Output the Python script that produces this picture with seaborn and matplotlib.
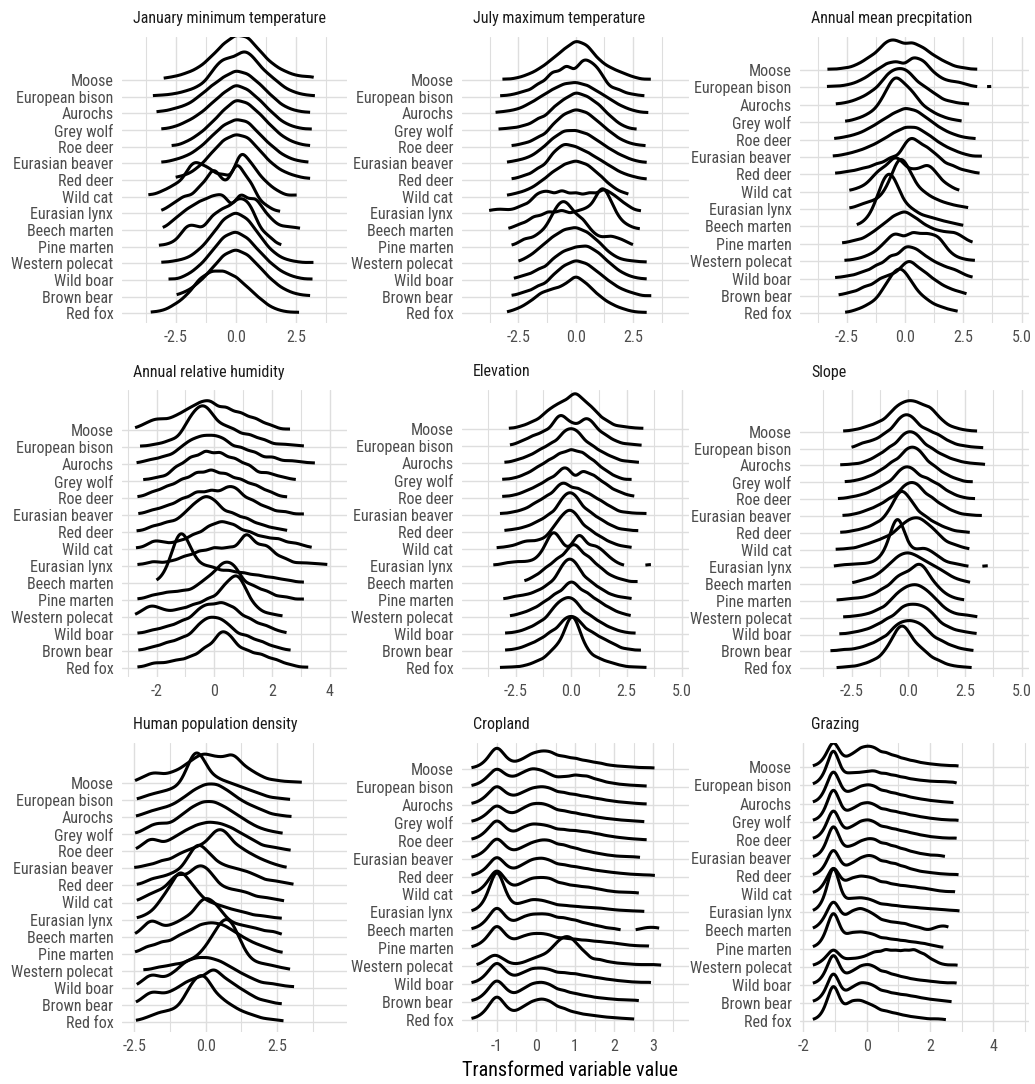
import numpy as np
import matplotlib
matplotlib.use("Agg")
import matplotlib.pyplot as plt
from matplotlib import font_manager as fm
import seaborn as sns

sns.set_style("white")


def pick_font():
    """Prefer a narrow sans face; fall back to Liberation Sans at a smaller size."""
    for fam, lab, ttl, axt in [("Liberation Sans Narrow", 12.4, 12.4, 15.5),
                               ("Arial Narrow", 12.4, 12.4, 15.5),
                               ("Nimbus Sans Narrow", 12.4, 12.4, 15.5),
                               ("Roboto Condensed", 11.5, 11.5, 14.5)]:
        try:
            fm.findfont(fm.FontProperties(family=fam), fallback_to_default=False)
            return fam, lab, ttl, axt
        except Exception:
            pass
    return "Liberation Sans", 10.5, 10.3, 12.8


FONT, LABEL_SIZE, TITLE_SIZE, AXTITLE_SIZE = pick_font()
plt.rcParams["font.family"] = [FONT, "Liberation Sans", "DejaVu Sans"]

# Species, top row first
species = ["Moose", "European bison", "Aurochs", "Grey wolf", "Roe deer",
           "Eurasian beaver", "Red deer", "Wild cat", "Eurasian lynx",
           "Beech marten", "Pine marten", "Western polecat", "Wild boar",
           "Brown bear", "Red fox"]

# Each curve: (transformed values, weights), species in the order above
jan_min_temp = [
    ([-3.0,-2.5,-2.0,-1.5,-1.0,-0.5,0.0,0.5,1.0,1.5,2.0,2.5,3.0,3.25],[1,2,4,7,13,20,25,24,16,9,5,2.5,1.5,1]),
    ([-3.45,-3.0,-2.5,-2.0,-1.5,-1.0,-0.6,-0.25,0.1,0.45,0.85,1.3,1.75,2.25,2.75,3.3],[0.7,1,2,4,7,14,19,17,19,24,20,14,9,4,1.5,0.7]),
    ([-3.3,-3.0,-2.5,-2.0,-1.5,-1.0,-0.5,0.0,0.5,1.0,1.5,2.0,2.5,3.1],[0.7,1,3,5,10,16,21,25,23,17,10,4,1.5,0.7]),
    ([-3.1,-2.5,-2.0,-1.5,-1.0,-0.5,0.0,0.5,1.0,1.5,2.0,2.5,3.17],[0.7,2,5,9,15,21,26,23,17,10,4,1.5,0.7]),
    ([-2.67,-2.0,-1.5,-1.0,-0.5,0.0,0.5,1.0,1.5,2.0,2.5,3.1],[0.7,3,7,13,20,26,24,18,11,5,2,0.7]),
    ([-3.1,-2.5,-2.0,-1.5,-1.0,-0.5,0.0,0.5,1.0,1.5,2.0,2.5,3.03],[0.7,2,4,8,14,20,23,22,15,9,4,1.5,0.7]),
    ([-2.5,-2.0,-1.5,-1.0,-0.5,0.0,0.5,1.0,1.5,2.0,2.5,3.1],[1,2,5,10,15,17,16,11,6,3,1.5,0.7]),
    ([-3.64,-3.0,-2.5,-2.0,-1.7,-1.4,-1.05,-0.5,0.2,0.7,1.2,1.7,2.54],[0.7,2,4,6,8,5.5,8,8,16,10,5,2,0.7]),
    ([-3.1,-2.6,-2.1,-1.5,-0.95,-0.5,0.05,0.6,1.2,1.85],[0.7,3,6,9,15,8,18,11,3,0.7]),
    ([-3.04,-2.5,-2.0,-1.5,-1.0,-0.5,0.2,0.8,1.3,1.7,2.2,2.68],[0.7,5,9,12,14,16,18,15,6,1.5,1.5,0.7]),
    ([-3.2,-2.6,-2.05,-1.6,-1.0,-0.5,0.0,0.4,0.75,1.3,1.9],[0.7,2,10,9,15,18,20,17,13,6,0.7]),
    ([-3.1,-2.5,-2.0,-1.5,-1.0,-0.5,0.0,0.5,1.0,1.5,2.0,2.5,3.24],[0.7,1.5,3,8,16,26,30,26,16,7,2.5,1,0.7]),
    ([-2.8,-2.0,-1.5,-1.0,-0.5,0.0,0.5,1.0,1.5,2.0,2.5,3.2],[0.7,3,8,16,25,28,24,16,9,4,1.5,0.7]),
    ([-2.46,-2.0,-1.5,-1.0,-0.5,0.0,0.5,1.0,1.5,2.0,2.5,3.1],[0.7,3,8,15,23,26,23,16,9,4,1.5,0.7]),
    ([-3.54,-3.0,-2.5,-2.0,-1.5,-1.0,-0.5,0.0,0.5,1.0,1.5,2.0,2.64],[0.7,1.5,5,10,19,23,23,20,14,8,3,1,0.7]),
]

jul_max_temp = [
    ([-3.2,-2.5,-2.0,-1.5,-1.0,-0.5,0.0,0.5,1.0,1.5,2.0,2.5,3.28],[0.7,1.5,4,8,14,20,26,23,13,8,5,2,0.7]),
    ([-3.3,-2.7,-2.2,-1.6,-1.0,-0.4,0.2,0.5,0.85,1.2,1.8,2.4,3.0],[0.7,1.5,4,10,19,24,19,15,16,10,6,2,0.7]),
    ([-3.5,-3.0,-2.5,-2.0,-1.5,-1.0,-0.5,0.0,0.5,1.0,1.5,2.0,2.5,3.17],[0.7,1.5,3,7,12,17,21,22,20,15,10,5,2,0.7]),
    ([-3.37,-2.8,-2.2,-1.6,-1.0,-0.5,0.0,0.5,1.0,1.5,2.0,2.66],[0.7,1.5,3.5,9,15,20,25,22,17,9,3,0.7]),
    ([-2.8,-2.2,-1.6,-1.0,-0.5,0.0,0.5,1.0,1.5,2.0,2.5,3.05],[0.7,2.5,7,14,20,23,21,15,9,4,1.5,0.7]),
    ([-3.0,-2.5,-2.0,-1.5,-1.0,-0.5,0.0,0.5,1.0,1.5,2.0,2.5,3.1],[0.7,2,4,9,16,21,21,19,14,9,5,2,0.7]),
    ([-2.8,-2.2,-1.6,-1.0,-0.5,0.0,0.5,1.0,1.5,2.0,2.5,3.1],[0.7,3,8,16,21,19,16,12,8,4,2,0.7]),
    ([-3.0,-2.5,-2.0,-1.5,-1.0,-0.5,0.0,0.5,1.0,1.5,2.0,2.3],[0.7,2,4,8,13,17,19,17,12,6,2,0.7]),
    ([-3.78,-3.3,-2.8,-2.3,-1.7,-1.2,-0.6,0.0,0.6,1.2,1.7,2.2,2.85],[1,1.5,1,3,7,8,9,8,8,9,6,3,1]),
    ([-2.94,-2.4,-1.8,-1.2,-0.6,0.0,0.5,1.0,1.3,1.7,2.2,2.8],[0.7,4,9,12,13,11,12,17,18,9,3,0.7]),
    ([-2.8,-2.2,-1.6,-1.1,-0.7,-0.3,0.2,0.6,1.0,1.5,2.0,2.5],[0.7,5,7,12,20,20,15,7,4,6,4,0.7]),
    ([-2.5,-2.0,-1.5,-1.0,-0.5,0.0,0.5,1.0,1.5,2.0,2.5,3.1],[0.7,3,7,11,14,15,13,9,4,1.5,1,0.7]),
    ([-2.7,-2.2,-1.6,-1.0,-0.5,0.0,0.5,1.0,1.5,2.0,2.5,3.1],[0.7,3,7,12,16,18,19,15,9,4,1.5,0.7]),
    ([-2.8,-2.2,-1.6,-1.0,-0.5,0.0,0.5,1.0,1.5,2.0,2.5,3.3],[0.7,3,7,12,17,20,18,13,8,4,2,0.7]),
    ([-3.0,-2.5,-2.0,-1.5,-1.0,-0.5,0.0,0.5,1.0,1.5,2.0,2.5,3.1],[0.7,3,7,13,15,17,24,18,11,6,3,1,0.7]),
]

annual_precip = [
    ([-3.33,-2.6,-2.0,-1.5,-1.0,-0.6,-0.2,0.3,0.8,1.3,1.8,2.4,3.1],[0.7,1.5,4,9,14,17,16,19,15,9,5,2,0.7]),
    ([-3.35,-2.8,-2.3,-1.8,-1.3,-0.8,-0.3,0.3,0.8,1.3,1.8,2.3,2.8,3.7],[0.7,0.8,2,5,10,15,17,20,17,8,4,3.5,1,0.8]),
    ([-2.97,-2.4,-1.9,-1.4,-0.9,-0.5,-0.1,0.3,0.8,1.3,1.9,2.5,3.3],[0.7,2,5,10,17,21,22,19,14,8,3,1,0.7]),
    ([-2.57,-2.0,-1.5,-1.0,-0.6,-0.3,0.1,0.5,1.0,1.5,2.0,2.43],[0.7,3,7,15,23,26,23,17,10,5,2,0.7]),
    ([-3.04,-2.5,-2.0,-1.5,-1.0,-0.5,0.0,0.5,1.0,1.5,2.0,2.5,3.03],[0.7,2,4,8,13,18,22,20,14,8,4,1.5,0.7]),
    ([-3.1,-2.5,-2.0,-1.5,-1.0,-0.5,0.0,0.5,1.0,1.5,2.0,2.5,3.3],[0.7,2,4,7,11,16,20,20,15,9,5,2,0.7]),
    ([-3.0,-2.4,-1.8,-1.2,-0.6,0.0,0.4,0.9,1.4,2.0,2.6,3.2],[0.7,2,4,7,11,16,19,16,11,6,2.5,0.7]),
    ([-2.39,-1.9,-1.4,-1.0,-0.5,-0.1,0.4,0.9,1.3,1.8,2.33],[0.7,3,8,15,23,17,15,18,12,5,0.7]),
    ([-2.39,-1.8,-1.3,-0.8,-0.4,-0.1,0.3,0.8,1.3,1.8,2.3,2.71],[0.7,4,6,12,22,28,20,12,7,4,2,0.7]),
    ([-2.07,-1.6,-1.2,-0.9,-0.6,-0.3,0.1,0.5,1.0,1.5,2.0,2.5],[0.7,5,14,26,30,20,13,10,8,5,3,0.7]),
    ([-2.7,-2.1,-1.5,-1.0,-0.5,0.0,0.5,1.0,1.5,2.0,2.4,2.9],[0.7,3,7,13,20,24,18,12,9,8,5,0.7]),
    ([-2.6,-2.0,-1.5,-1.0,-0.55,-0.2,0.3,0.75,1.05,1.45,1.9,2.4,3.0],[0.7,2,5,11,18,15,23,15,14,18,6,2,0.7]),
    ([-3.0,-2.4,-1.8,-1.2,-0.6,0.0,0.5,1.0,1.5,2.0,2.4,2.9],[0.7,2,5,10,17,22,19,13,9,6,3,0.7]),
    ([-2.85,-2.3,-1.7,-1.1,-0.6,-0.1,0.3,0.8,1.3,1.8,2.3,2.64],[0.7,3,8,13,15,19,23,18,11,6,3,0.7]),
    ([-2.57,-2.0,-1.5,-1.0,-0.6,-0.2,0.2,0.6,1.0,1.5,2.0,2.26],[0.7,3,7,13,22,29,20,11,8,5,2,0.7]),
]

rel_humidity = [
    ([-2.74,-2.4,-2.05,-1.7,-1.3,-0.9,-0.5,-0.1,0.4,0.9,1.4,1.9,2.62],[1,4,8,7,11,16,21,24,21,16,11,5,1]),
    ([-2.57,-2.0,-1.5,-1.0,-0.7,-0.4,-0.1,0.3,0.7,1.2,1.7,2.3,2.7,3.1],[1,3,7,15,23,29,24,18,16,13,8,3,1.5,1]),
    ([-2.69,-2.2,-1.7,-1.2,-0.8,-0.4,0.0,0.4,0.9,1.4,2.0,2.6,3.0,3.48],[1,4,7,12,18,21,21,19,15,11,7,3,1.5,1]),
    ([-2.46,-1.9,-1.3,-0.8,-0.3,0.2,0.7,1.2,1.8,2.3,2.82],[1,3,10,16,20,19,15,11,6,3,1]),
    ([-2.66,-2.1,-1.6,-1.1,-0.6,-0.1,0.4,0.9,1.4,1.9,2.52],[1,5,9,14,19,21,18,14,10,5,1]),
    ([-2.63,-2.1,-1.6,-1.1,-0.6,-0.1,0.4,0.8,1.3,1.8,2.4,3.1],[1,4,7,12,17,18,18,17,11,6,3,1]),
    ([-2.69,-2.1,-1.6,-1.1,-0.7,-0.3,0.1,0.6,1.1,1.6,2.1,2.52],[1,5,8,11,18,24,20,15,11,6,3,1]),
    ([-2.71,-2.1,-1.7,-1.2,-0.7,-0.2,0.25,0.7,1.2,1.7,2.2,2.7,3.0,3.37],[1,6,4,6,11,16,19,17,13,9,8,4,2,1]),
    ([-2.66,-2.1,-1.5,-1.0,-0.5,0.0,0.5,1.0,1.2,1.6,1.9,2.4,3.0,3.45,3.91],[1,3,3,6,9,11,11,11,12,8,9,5,2,1.5,1]),
    ([-2.0,-1.6,-1.3,-1.1,-0.8,-0.4,0.0,0.5,1.0,1.5,2.0,2.5,3.1],[1,8,22,26,19,12,12,11,9,7,5,3,1]),
    ([-2.66,-2.1,-1.6,-1.1,-0.6,-0.2,0.2,0.5,0.8,1.3,1.8,2.4,3.1],[1,4,6,7,9,14,19,17,17,11,7,3,1]),
    ([-2.74,-2.4,-2.1,-1.7,-1.2,-0.7,-0.2,0.3,0.7,1.0,1.4,1.9,2.36],[1,5,8,5,7,11,16,23,28,20,8,3,1]),
    ([-2.66,-2.1,-1.6,-1.1,-0.6,-0.2,0.25,0.7,1.2,1.7,2.1,2.5],[1,4,7,12,18,23,26,22,14,8,3,1]),
    ([-2.63,-2.1,-1.6,-1.1,-0.6,-0.2,0.2,0.6,1.1,1.6,2.1,2.64],[1,4,8,12,19,25,24,18,14,9,4,1]),
    ([-2.66,-2.1,-1.7,-1.3,-0.8,-0.3,0.2,0.6,1.1,1.6,2.1,2.6,3.25],[1,4,3,6,9,16,26,21,14,11,7,3,1]),
]

elevation = [
    ([-2.8,-2.2,-1.7,-1.2,-0.8,-0.4,0.0,0.3,0.7,1.1,1.6,2.2,2.7,3.26],[1,3,7,12,16,20,20,23,19,14,8,3,1.5,1]),
    ([-2.75,-2.2,-1.7,-1.2,-0.7,-0.35,0.1,0.6,1.0,1.5,2.0,2.6,3.18],[1,4,8,11,16,19,15,19,15,9,4,2,1]),
    ([-3.0,-2.4,-1.9,-1.4,-0.9,-0.4,0.0,0.4,0.9,1.4,1.9,2.5,3.06],[1,3,6,11,16,21,23,21,15,9,5,2,1]),
    ([-3.1,-2.5,-2.0,-1.5,-1.0,-0.5,0.0,0.5,1.0,1.5,2.0,2.73],[1,2,5,10,15,20,23,21,15,8,3,1]),
    ([-3.1,-2.5,-2.0,-1.5,-1.0,-0.5,-0.1,0.5,1.0,1.5,2.0,2.4,2.85],[1,2,5,9,14,18,20,21,17,11,5,2,1]),
    ([-3.2,-2.6,-2.1,-1.6,-1.1,-0.6,-0.2,0.3,0.8,1.3,1.8,2.4,2.9,3.4],[1,2,4,9,14,19,21,20,16,11,6,2,1,1]),
    ([-3.0,-2.5,-2.0,-1.5,-1.0,-0.5,-0.1,0.3,0.8,1.3,1.8,2.4,3.03],[1,2,4,8,13,20,26,23,16,10,5,2,1]),
    ([-3.35,-2.8,-2.3,-1.9,-1.4,-0.9,-0.5,-0.1,0.3,0.8,1.3,1.8,2.3,2.73],[1,2,4,6,7,12,20,27,23,16,10,5,2,1]),
    ([-3.5,-2.9,-2.4,-1.9,-1.4,-1.0,-0.7,-0.3,0.2,0.5,1.0,1.4,1.8,2.13,3.6],[1,3,4,4,8,18,25,14,19,22,17,12,5,1,1.5]),
    ([-2.1,-1.6,-1.1,-0.6,-0.1,0.3,0.8,1.3,1.8,2.3,3.0],[1,4,9,14,18,19,15,9,4,2,1]),
    ([-3.05,-2.5,-2.0,-1.5,-1.0,-0.5,-0.1,0.3,0.8,1.3,1.8,2.3,2.73],[1,3,4,7,12,20,27,23,15,9,4,2,1]),
    ([-2.75,-2.2,-1.7,-1.2,-0.7,-0.2,0.2,0.7,1.2,1.7,2.2,2.69],[1,3,6,11,17,21,22,18,12,7,3,1]),
    ([-2.97,-2.4,-1.9,-1.4,-0.9,-0.5,-0.1,0.3,0.8,1.3,1.8,2.3,2.91],[1,2,5,10,16,22,25,22,16,10,5,2,1]),
    ([-2.97,-2.4,-1.9,-1.4,-0.9,-0.4,0.0,0.4,0.9,1.4,1.9,2.5,3.15],[1,2,5,9,15,20,22,20,15,10,6,2,1]),
    ([-3.2,-2.6,-2.0,-1.5,-1.0,-0.6,-0.2,0.05,0.3,0.7,1.2,1.7,2.2,2.8,3.4],[1,1.5,3,7,12,18,25,30,26,16,10,6,3,1.5,1]),
]

slope = [
    ([-2.87,-2.3,-1.8,-1.3,-0.8,-0.4,0.0,0.4,0.8,1.1,1.5,2.0,2.5,3.09],[0.7,2,5,9,15,21,24,23,17,14,9,4,1.5,0.7]),
    ([-2.5,-2.0,-1.5,-1.0,-0.5,-0.1,0.3,0.8,1.3,1.8,2.3,2.5,2.9,3.3],[0.7,5,7,13,20,24,21,16,12,6,2,1,1,0.7]),
    ([-3.0,-2.4,-1.8,-1.3,-0.8,-0.3,0.1,0.5,1.0,1.5,2.0,2.5,3.0,3.38],[0.7,1.5,4,9,16,22,24,21,15,9,5,2.5,1.5,0.7]),
    ([-2.8,-2.2,-1.7,-1.2,-0.7,-0.2,0.2,0.6,1.1,1.6,2.1,2.84],[0.7,2,5,10,17,22,24,21,14,7,3,0.7]),
    ([-3.1,-2.5,-2.0,-1.5,-1.0,-0.5,-0.1,0.3,0.8,1.3,1.8,2.3,2.94],[0.7,2,4,8,13,19,23,21,18,13,6,2,0.7]),
    ([-2.9,-2.3,-1.8,-1.3,-0.8,-0.3,0.1,0.5,1.0,1.5,2.0,2.6,3.24],[0.7,2,5,9,15,20,23,22,16,9,4,1.5,0.7]),
    ([-3.0,-2.4,-1.9,-1.4,-0.9,-0.5,-0.2,0.2,0.7,1.2,1.7,2.3,3.04],[0.7,2,4,8,14,21,25,21,14,8,4,1.5,0.7]),
    ([-3.2,-2.6,-2.0,-1.5,-1.0,-0.5,-0.1,0.25,0.6,1.0,1.4,1.9,2.3,2.69],[0.7,1.5,4,7,11,15,18,19,20,16,10,5,2,0.7]),
    ([-3.28,-2.8,-2.3,-1.8,-1.3,-0.9,-0.6,-0.4,-0.1,0.3,0.7,1.1,1.5,2.0,2.43,3.5],[0.7,2,2.5,3,6,12,22,26,14,11,14,10,5,3,1,1.2]),
    ([-2.47,-2.0,-1.6,-1.2,-0.8,-0.4,0.0,0.4,0.8,1.2,1.6,2.0,2.4,2.72],[0.7,3,4,8,14,20,22,19,15,12,8,4,2,0.7]),
    ([-3.16,-2.6,-2.1,-1.6,-1.1,-0.6,-0.2,0.2,0.5,0.8,1.2,1.6,2.0,2.46],[0.7,2,2.5,5,11,17,20,20,21,19,12,5,2,0.7]),
    ([-2.87,-2.3,-1.8,-1.3,-0.8,-0.4,0.0,0.4,0.8,1.2,1.6,2.0,2.5,3.04],[0.7,1.5,3,7,12,18,22,23,19,13,6,3,2.5,0.7]),
    ([-3.04,-2.4,-1.9,-1.4,-0.9,-0.4,0.0,0.4,0.8,1.2,1.7,2.2,2.6,3.01],[0.7,2,4,8,14,19,21,21,19,13,7,3,1.5,0.7]),
    ([-3.43,-2.8,-2.2,-1.7,-1.2,-0.7,-0.3,0.1,0.5,0.9,1.4,1.9,2.4,2.87],[0.7,2,3,6,11,17,21,22,20,15,10,5,2,0.7]),
    ([-3.16,-2.6,-2.0,-1.5,-1.0,-0.6,-0.3,0.0,0.4,0.8,1.3,1.8,2.3,2.79],[0.7,2,4,8,15,23,27,25,18,13,8,3,1.5,0.7]),
]

human_density = [
    ([-2.47,-2.2,-1.85,-1.5,-1.1,-0.7,-0.35,0.0,0.4,0.8,1.1,1.5,1.9,2.4,2.9,3.36],[0.7,4,8,6,9,13,17,22,20,19,17,11,6,3,1.5,1]),
    ([-2.41,-2.0,-1.6,-1.2,-0.8,-0.5,-0.3,0.0,0.4,0.8,1.2,1.6,2.0,2.5,2.95],[0.7,4,6,8,12,19,26,22,16,13,10,7,4,2,0.7]),
    ([-2.44,-2.0,-1.6,-1.2,-0.8,-0.4,0.0,0.4,0.8,1.2,1.6,2.0,2.5,3.0],[0.7,4,6,8,13,19,23,23,18,12,8,5,2,0.7]),
    ([-2.47,-2.0,-1.65,-1.3,-0.9,-0.5,-0.1,0.3,0.7,1.1,1.5,1.9,2.3,2.69],[0.7,5,7,6,12,18,22,22,18,13,8,4,2,0.7]),
    ([-2.44,-2.1,-1.85,-1.5,-1.1,-0.7,-0.3,0.1,0.5,0.9,1.3,1.7,2.2,2.6,2.97],[0.7,5,8,5,10,15,19,21,20,17,12,8,4,2,0.7]),
    ([-2.5,-2.0,-1.5,-1.0,-0.6,-0.2,0.2,0.5,0.8,1.2,1.6,2.0,2.4,2.83],[0.7,3,7,10,13,16,20,22,20,15,10,6,3,0.7]),
    ([-2.41,-1.9,-1.5,-1.1,-0.7,-0.4,-0.15,0.2,0.6,1.0,1.4,1.8,2.3,2.7,3.07],[0.7,5,6,9,13,19,22,19,14,12,10,7,4,2,0.7]),
    ([-2.41,-2.0,-1.6,-1.2,-0.9,-0.5,-0.25,0.0,0.3,0.7,1.1,1.5,2.0,2.4,2.74],[0.7,4,6,9,13,12,11,13,10,7,6,5,3,1.5,0.7]),
    ([-2.41,-2.0,-1.6,-1.3,-1.0,-0.8,-0.5,-0.2,0.2,0.6,1.0,1.4,1.9,2.3,2.66],[0.7,3,8,12,16,17,14,11,9,7,5,4,2.5,1,0.7]),
    ([-2.47,-2.1,-1.85,-1.5,-1.1,-0.7,-0.3,0.0,0.3,0.6,1.0,1.4,1.8,2.3,2.66],[0.7,4,7,4,6,9,12,15,12,9,6,5,4,3,0.7]),
    ([-2.47,-2.0,-1.5,-1.0,-0.6,-0.2,0.2,0.6,1.0,1.4,1.8,2.2,2.69],[0.7,5,8,10,12,16,17,16,12,8,5,3,0.7]),
    ([-2.18,-1.6,-1.1,-0.6,-0.2,0.1,0.35,0.6,0.85,1.1,1.4,1.8,2.2,2.6,2.95],[0.7,3,5,7,9,12,16,22,23,16,9,5,4,2,0.7]),
    ([-2.41,-2.1,-1.85,-1.5,-1.1,-0.7,-0.3,0.1,0.5,0.9,1.3,1.7,2.2,2.6,3.09],[0.7,4,7,5,9,16,18,18,16,12,8,5,3,1.5,0.7]),
    ([-2.44,-2.1,-1.85,-1.5,-1.1,-0.7,-0.3,0.1,0.4,0.8,1.2,1.6,2.1,2.66],[0.7,4,7,6,9,14,17,17,19,15,10,6,3,0.7]),
    ([-2.44,-2.0,-1.6,-1.2,-0.8,-0.5,-0.2,0.1,0.5,0.9,1.3,1.7,2.2,2.72],[0.7,3,6,7,10,18,23,22,15,10,6,4,2,0.7]),
]

cropland = [
    ([-1.65,-1.4,-1.2,-1.0,-0.8,-0.6,-0.35,-0.1,0.15,0.4,0.7,1.0,1.3,1.6,1.9,2.2,2.5,2.8,3.03],[0.5,1.5,4,11,4,2.5,4.5,7.5,8.5,8.5,7,6,4.5,3.5,2,1.5,1,0.7,0.5]),
    ([-1.65,-1.4,-1.2,-1.0,-0.8,-0.6,-0.35,-0.1,0.15,0.4,0.7,1.0,1.3,1.6,1.9,2.2,2.5,2.83],[0.5,1.5,3.5,8,3.5,3.5,6,8,7,5,5,6,5.5,3.5,2,1.2,0.8,0.5]),
    ([-1.65,-1.4,-1.2,-1.0,-0.8,-0.6,-0.35,-0.1,0.15,0.4,0.7,1.0,1.3,1.6,1.9,2.2,2.5,2.83],[0.5,1.5,3.5,8,3.5,3,5,7,7.5,7,6,5,4,3,2,1.3,0.8,0.5]),
    ([-1.65,-1.4,-1.2,-1.0,-0.8,-0.6,-0.35,-0.1,0.15,0.4,0.7,1.0,1.3,1.6,1.9,2.2,2.5,2.77],[0.5,1.5,3,7,3,3,5.5,7.5,7.5,6.5,5.5,4.5,3.5,2.5,1.8,1.2,0.8,0.5]),
    ([-1.65,-1.4,-1.2,-1.0,-0.8,-0.6,-0.35,-0.1,0.15,0.4,0.7,1.0,1.3,1.6,1.9,2.2,2.5,2.83],[0.5,1.5,3.5,8,3.5,2.5,5,6.5,6,5.5,5,4.5,4,3,2,1.3,0.8,0.5]),
    ([-1.65,-1.4,-1.2,-1.0,-0.8,-0.6,-0.35,-0.1,0.15,0.4,0.7,1.0,1.3,1.6,1.9,2.2,2.45,2.66],[0.5,1.5,3.5,8.5,3.5,2.5,4.5,6.5,7.5,7.5,6.5,5,3.5,2.5,1.5,1,0.7,0.5]),
    ([-1.65,-1.4,-1.2,-1.0,-0.8,-0.6,-0.35,-0.1,0.15,0.4,0.7,1.0,1.3,1.6,1.9,2.2,2.5,2.8,3.04],[0.5,1.5,3.5,9,3.5,2.5,5,7.5,8,7,6,5,4,3,2.2,1.6,1.1,0.8,0.5]),
    ([-1.65,-1.4,-1.2,-1.0,-0.8,-0.6,-0.35,-0.1,0.15,0.4,0.7,1.0,1.3,1.6,1.9,2.2,2.45,2.63],[0.5,1.5,4,10,4,2.5,4.5,6.5,6.5,6.5,5,4,3.5,2.5,1.5,1,0.7,0.5]),
    ([-1.65,-1.4,-1.2,-1.0,-0.8,-0.6,-0.35,-0.1,0.15,0.4,0.7,1.0,1.3,1.6,1.9,2.2,2.5,2.77],[0.5,2,6,19,6,2.5,4,5.5,5,4,3.5,3,2.5,2.2,1.5,1,0.7,0.5]),
    ([-1.65,-1.4,-1.2,-1.0,-0.8,-0.6,-0.35,-0.1,0.15,0.4,0.7,1.0,1.3,1.6,1.94,2.75,2.95,3.15],[0.5,1.5,3.5,9,3.5,2.5,5,6,6,6,5.5,4.5,3,2,1,0.8,1,0.8]),
    ([-1.65,-1.4,-1.2,-1.0,-0.8,-0.6,-0.35,-0.1,0.15,0.4,0.7,1.0,1.3,1.6,1.9,2.2,2.5,2.8,2.89],[0.5,1.5,3.5,9,3.5,2.5,4.5,5.5,5.5,5,4.5,4,3.5,3,2.5,1.8,1.2,0.8,0.5]),
    ([-1.52,-1.3,-1.15,-1.0,-0.8,-0.6,-0.35,-0.1,0.15,0.4,0.6,0.8,1.0,1.25,1.6,1.9,2.2,2.5,2.8,3.0,3.2],[0.5,1.5,3,4.5,2,0.7,1.5,3.5,5,7,10,12,10,7,4,2.2,1.5,1,0.8,0.6,0.5]),
    ([-1.65,-1.4,-1.2,-1.0,-0.8,-0.6,-0.35,-0.1,0.15,0.4,0.7,1.0,1.3,1.6,1.9,2.2,2.5,2.8,2.94],[0.5,1.5,4,9,4,2.5,4.5,6.5,6.5,6,5.5,5,4,3,2.2,1.5,1,0.7,0.5]),
    ([-1.65,-1.4,-1.2,-1.0,-0.8,-0.6,-0.35,-0.1,0.15,0.4,0.7,1.0,1.3,1.6,1.9,2.2,2.45,2.63],[0.5,1.5,4,9,4,2.5,5,7.5,8,7,5.5,4,3,2,1.5,1,0.7,0.5]),
    ([-1.65,-1.4,-1.2,-1.0,-0.8,-0.6,-0.35,-0.1,0.15,0.4,0.7,1.0,1.3,1.6,1.9,2.2,2.51],[0.5,1.5,4,10,4,2.5,5,7.5,8.5,7.5,5.5,3.5,2.5,1.8,1.2,0.8,0.5]),
]

grazing = [
    ([-1.7,-1.45,-1.25,-1.05,-0.85,-0.65,-0.45,-0.2,0.05,0.3,0.6,0.9,1.2,1.5,1.8,2.1,2.4,2.7,2.9],[0.5,1.5,4,11,4,2.5,5,8,8.5,8,7,5.5,4,3,2,1.5,1,0.7,0.5]),
    ([-1.7,-1.45,-1.25,-1.05,-0.85,-0.65,-0.45,-0.2,0.05,0.3,0.6,0.9,1.2,1.5,1.8,2.1,2.4,2.7,2.84],[0.5,2,5.5,17,5,3.5,5,5.5,6,6.5,6,5,4,3,2.5,2,2,1.5,0.5]),
    ([-1.7,-1.45,-1.25,-1.05,-0.85,-0.65,-0.45,-0.2,0.05,0.3,0.6,0.9,1.2,1.5,1.8,2.1,2.4,2.74],[0.5,1.5,5,13,5,2.5,4.5,6.5,7,6.5,5.5,4.5,3.5,2.5,1.8,1.2,0.8,0.5]),
    ([-1.7,-1.45,-1.25,-1.05,-0.85,-0.65,-0.45,-0.2,0.05,0.3,0.6,0.9,1.2,1.5,1.8,2.1,2.4,2.7,2.9],[0.5,1.5,5,15,5,2.5,5,7.5,8,7,6,5,4,3,2.2,1.5,1,0.7,0.5]),
    ([-1.7,-1.45,-1.25,-1.05,-0.85,-0.65,-0.45,-0.2,0.05,0.3,0.6,0.9,1.2,1.5,1.8,2.1,2.4,2.7,2.84],[0.5,1.5,4.5,13,4.5,2.5,5,7.5,8,7,6,5,4,3,2,1.3,0.9,0.6,0.5]),
    ([-1.7,-1.45,-1.25,-1.05,-0.85,-0.65,-0.45,-0.2,0.05,0.3,0.6,0.9,1.2,1.5,1.8,2.1,2.3,2.47],[0.5,1.5,5,16,5,3,5,7.5,8.5,8.5,7.5,6,4.5,3,2,1.2,0.8,0.5]),
    ([-1.7,-1.45,-1.25,-1.05,-0.85,-0.65,-0.45,-0.2,0.05,0.3,0.6,0.9,1.2,1.5,1.8,2.1,2.4,2.7,2.9],[0.5,1.5,4,12,4,2.5,5,7.5,8.5,8,7,6,4.5,3,2,1.5,1,0.7,0.5]),
    ([-1.7,-1.45,-1.25,-1.05,-0.85,-0.65,-0.45,-0.2,0.05,0.3,0.6,0.9,1.2,1.5,1.8,2.1,2.4,2.7,2.79],[0.5,1.5,4,10,4,3,5.5,6.5,6,5.5,5,4,3.5,3,2.5,1.8,1.2,0.8,0.5]),
    ([-1.7,-1.45,-1.25,-1.05,-0.85,-0.65,-0.45,-0.2,0.05,0.3,0.6,0.9,1.2,1.5,1.8,2.1,2.4,2.7,2.93],[0.5,2,6,19,6,3,5,5.5,5,4,3.5,3,2.5,2.2,1.8,1.5,1.2,0.8,0.5]),
    ([-1.7,-1.45,-1.25,-1.05,-0.85,-0.65,-0.45,-0.2,0.05,0.3,0.6,0.9,1.2,1.5,1.72,2.2,2.4,2.58],[0.5,1.5,3.5,8,3.5,2.5,5,6,5,4,3,2.5,2.2,1.2,0.5,0.8,1,0.8]),
    ([-1.7,-1.45,-1.25,-1.05,-0.85,-0.65,-0.45,-0.2,0.05,0.3,0.6,0.9,1.2,1.5,1.8,2.1,2.42],[0.5,1.5,4.5,13,4.5,3,5,5.5,5,4.5,4,3.5,3,2.5,2,1.2,0.5]),
    ([-1.7,-1.45,-1.25,-1.05,-0.85,-0.65,-0.45,-0.2,0.05,0.3,0.6,0.9,1.2,1.5,1.8,2.1,2.4,2.7,2.87],[0.5,1.5,3,7,3,2,3,3.5,4.5,6.5,8,7.5,7.5,8,6,3,1,0.6,0.5]),
    ([-1.7,-1.45,-1.25,-1.05,-0.85,-0.65,-0.45,-0.2,0.05,0.3,0.6,0.9,1.2,1.5,1.8,2.1,2.4,2.7,2.84],[0.5,1.5,4.5,13,4.5,2.5,5,7.5,8,7,6,4.5,3.5,2.5,2,1.5,1,0.7,0.5]),
    ([-1.7,-1.45,-1.25,-1.05,-0.85,-0.65,-0.45,-0.2,0.05,0.3,0.6,0.9,1.2,1.5,1.8,2.1,2.4,2.68],[0.5,1.5,4,12,4,2.5,5.5,7.5,7,6,5,4,3.5,2.8,2,1.4,0.9,0.5]),
    ([-1.7,-1.45,-1.25,-1.05,-0.85,-0.65,-0.45,-0.2,0.05,0.3,0.6,0.9,1.2,1.5,1.8,2.1,2.3,2.5],[0.5,1.5,5,15,5,4,7.5,8,6.5,5.5,4.5,3.5,2.5,1.8,1.2,0.8,0.6,0.5]),
]

panel_titles = ["January minimum temperature", "July maximum temperature",
                "Annual mean precpitation", "Annual relative humidity",
                "Elevation", "Slope", "Human population density",
                "Cropland", "Grazing"]
panel_data = [jan_min_temp, jul_max_temp, annual_precip, rel_humidity,
              elevation, slope, human_density, cropland, grazing]

# ---- layout (pixels) ----
FW, FH = 1035, 1084
fig = plt.figure(figsize=(FW / 100, FH / 100), dpi=100)

col_lr = [(121.7, 347.0), (461.7, 689.0), (800.0, 1029.0)]
row_tb = [(36.7, 323.3), (390.0, 676.7), (743.3, 1031.7)]
title_y = [18, 372, 725]

# per panel: zero pixel, px per unit, moose row px, red fox row px,
#            major ticks, tick labels, minor ticks, kernel bw, ridge height (rows)
panel_specs = [
    (235.7, 24.0, 80.0, 313.3, [-2.5, 0, 2.5], ["-2.5", "0.0", "2.5"], [-3.75, -1.25, 1.25, 3.75], 0.28, 3.0),
    (575.7, 22.9, 80.0, 313.3, [-2.5, 0, 2.5], ["-2.5", "0.0", "2.5"], [-3.75, -1.25, 1.25, 3.75], 0.28, 2.7),
    (905.0, 23.3, 70.0, 313.3, [-2.5, 0, 2.5, 5.0], ["-2.5", "0.0", "2.5", "5.0"], [-3.75, -1.25, 1.25, 3.75], 0.28, 3.0),
    (214.3, 28.9, 430.0, 668.3, [-2, 0, 2, 4], ["-2", "0", "2", "4"], [-3, -1, 1, 3], 0.24, 2.9),
    (571.0, 22.2, 429.3, 668.3, [-2.5, 0, 2.5, 5.0], ["-2.5", "0.0", "2.5", "5.0"], [-3.75, -1.25, 1.25, 3.75], 0.26, 3.0),
    (908.3, 22.7, 431.7, 668.3, [-2.5, 0, 2.5, 5.0], ["-2.5", "0.0", "2.5", "5.0"], [-3.75, -1.25, 1.25, 3.75], 0.26, 2.8),
    (205.7, 28.6, 783.3, 1021.7, [-2.5, 0, 2.5], ["-2.5", "0.0", "2.5"], [-1.25, 1.25, 3.75], 0.24, 3.0),
    (536.0, 39.1, 769.0, 1020.0, [-1, 0, 1, 2, 3], ["-1", "0", "1", "2", "3"], [-1.5, -0.5, 0.5, 1.5, 2.5, 3.5], 0.15, 2.2),
    (866.7, 31.67, 767.3, 1021.0, [-2, 0, 2, 4], ["-2", "0", "2", "4"], [-1, 1, 3, 5], 0.15, 2.4),
]

GRID = "#DEDEDE"
TXT = "#4D4D4D"
n = len(species)

for k, (title, curves, spec) in enumerate(zip(panel_titles, panel_data, panel_specs)):
    zero_px, ppu, top_row_px, bot_row_px, majors, mlabels, minors, bw, ridge_h = spec
    left, right = col_lr[k % 3]
    top, bottom = row_tb[k // 3]
    ax = fig.add_axes([left / FW, 1 - bottom / FH, (right - left) / FW, (bottom - top) / FH])

    for xs, ws in curves:
        xs = np.asarray(xs, float)
        ws = np.asarray(ws, float)
        sd = np.sqrt(np.cov(xs, aweights=ws))
        sns.kdeplot(x=xs, weights=ws, bw_method=bw / sd, cut=0, gridsize=400,
                    color="black", linewidth=2.2, ax=ax)

    # stack the densities as ridges on a common height scale
    lines = list(ax.lines)
    peak = max(np.nanmax(l.get_ydata()) for l in lines)
    for i, line in enumerate(lines):
        x, y = line.get_data()
        hgt = np.asarray(y) / peak * ridge_h
        hgt = np.where(hgt < 0.015 * ridge_h, np.nan, hgt)
        line.set_data(x, (n - 1 - i) + hgt)
        line.set_solid_capstyle("butt")

    spacing = (bot_row_px - top_row_px) / (n - 1)
    ax.set_xlim((left - zero_px) / ppu, (right - zero_px) / ppu)
    ax.set_ylim(-(bottom - bot_row_px) / spacing, (n - 1) + (top_row_px - top) / spacing)

    ax.set_xticks(majors)
    ax.set_xticklabels(mlabels)
    ax.set_xticks(minors, minor=True)
    ax.set_yticks(range(n))
    ax.set_yticklabels(species[::-1])
    ax.grid(True, which="major", color=GRID, linewidth=1.0)
    ax.grid(True, which="minor", axis="x", color=GRID, linewidth=0.8)
    ax.set_axisbelow(True)
    ax.tick_params(axis="both", which="both", length=0, labelsize=LABEL_SIZE, labelcolor=TXT)
    ax.tick_params(axis="y", pad=6)
    ax.tick_params(axis="x", pad=5)
    for s in ax.spines.values():
        s.set_visible(False)
    ax.set_xlabel("")
    ax.set_ylabel("")

    fig.text((left + 11) / FW, 1 - title_y[k // 3] / FH, title,
             ha="left", va="center", fontsize=TITLE_SIZE, color="#1A1A1A")

fig.text(570 / FW, 1 - 1070 / FH, "Transformed variable value",
         ha="center", va="center", fontsize=AXTITLE_SIZE, color="black")

fig.savefig("out.png", dpi=100, facecolor="white")
